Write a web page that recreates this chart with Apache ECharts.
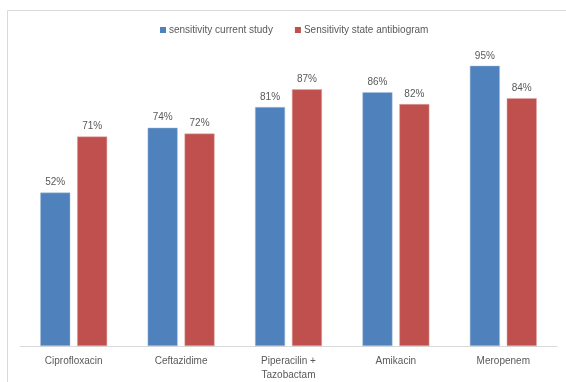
<!DOCTYPE html>
<html>
<head>
<meta charset="utf-8">
<script src="https://cdn.jsdelivr.net/npm/echarts@6/dist/echarts.min.js"></script>
<style>
    html, body {margin: 0; padding: 0; background: #fff;}
    #chart {width: 566px; height: 382px;}
</style>
</head>
<body>
<div id="chart"></div>
<script>
/**
 * 数据
 */
var categories = ['Ciprofloxacin', 'Ceftazidime', 'Piperacilin +\nTazobactam', 'Amikacin', 'Meropenem'];
var currentStudy = [52, 74, 81, 86, 95];// sensitivity current study
var stateAntibiogram = [71, 72, 87, 82, 84];// Sensitivity state antibiogram
var seriesNames = ['sensitivity current study', 'Sensitivity state antibiogram'];

/**
 * 渲染柱状图
 */
function renderHistogram() {
    var chart = echarts.init(document.getElementById('chart'));
    var textColor = '#595959';
    var font = 'Liberation Sans';
    var labelOpt = {
        show: true,
        position: 'top',
        distance: 5,
        color: textColor,
        fontFamily: font,
        fontSize: 10,
        formatter: '{c}%'
    };
    var option = {
        animation: false,
        textStyle: {fontFamily: font},
        graphic: [{
            type: 'polyline',
            shape: {points: [[7.5, 400], [7.5, 10.5], [600, 10.5]]},
            style: {stroke: '#d9d9d9', fill: null, lineWidth: 1}
        }],
        legend: {
            left: 155,
            top: 20,
            itemWidth: 6,
            itemHeight: 6,
            itemGap: 22,
            icon: 'rect',
            itemStyle: {borderWidth: 0},
            textStyle: {color: textColor, fontSize: 10, fontFamily: font, padding: [0, 0, 0, -2]},
            data: seriesNames
        },
        grid: {left: 20, right: 9, top: 51, bottom: 36, containLabel: false},
        xAxis: {
            type: 'category',
            data: categories,
            axisLine: {lineStyle: {color: '#d9d9d9', width: 1}},
            axisTick: {show: false},
            axisLabel: {color: textColor, fontSize: 10, fontFamily: font, margin: 8, lineHeight: 14, interval: 0}
        },
        yAxis: {
            type: 'value',
            min: 0,
            max: 100,
            show: false,
            splitLine: {show: false}
        },
        series: [{
            name: seriesNames[0],
            type: 'bar',
            data: currentStudy,
            barWidth: 30,
            barGap: '23%',
            itemStyle: {color: '#4F81BD', borderColor: '#A7C0DE', borderWidth: 0.5},
            label: labelOpt
        }, {
            name: seriesNames[1],
            type: 'bar',
            data: stateAntibiogram,
            barWidth: 30,
            itemStyle: {color: '#C0504D', borderColor: '#DFA8A6', borderWidth: 0.5},
            label: labelOpt
        }]
    };
    chart.setOption(option);
}

renderHistogram();
</script>
</body>
</html>
